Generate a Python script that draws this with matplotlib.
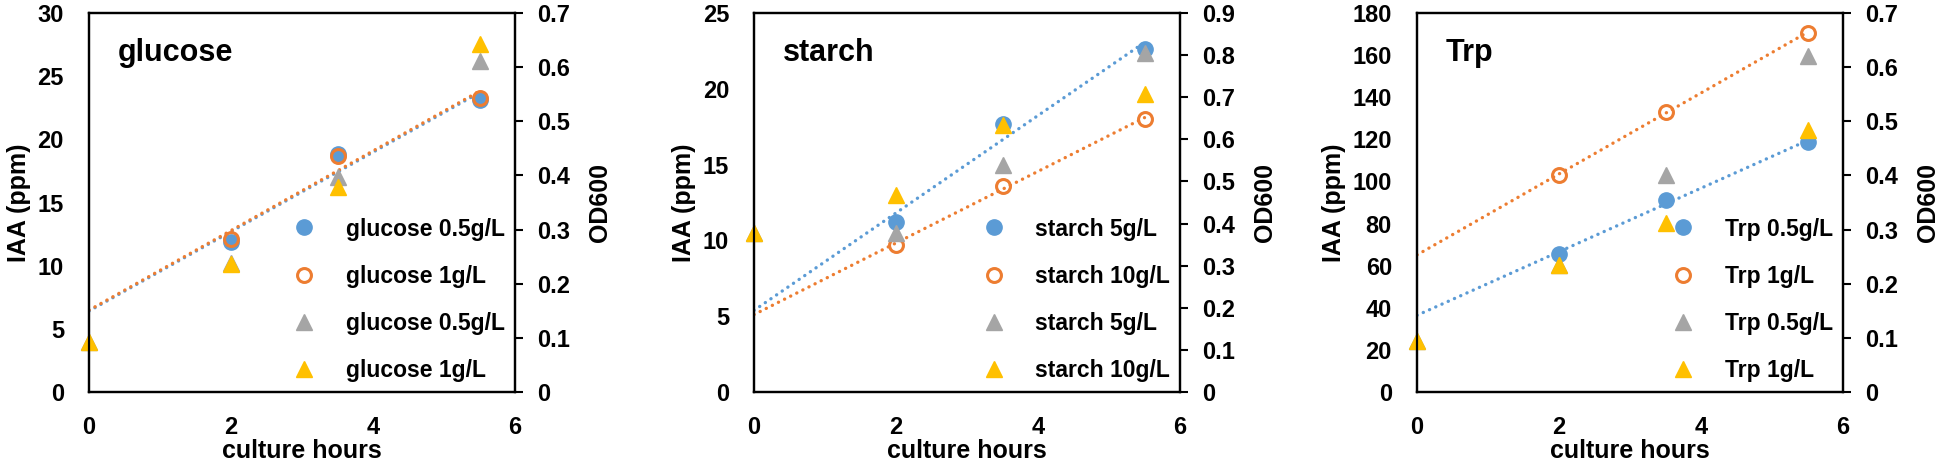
import numpy as np
import matplotlib
matplotlib.use("Agg")
import matplotlib.pyplot as plt
from matplotlib.ticker import FuncFormatter, MultipleLocator

plt.rcParams["font.family"] = ["Liberation Sans", "DejaVu Sans"]
plt.rcParams["font.weight"] = "bold"
plt.rcParams["axes.labelweight"] = "bold"

# ---------------------------------------------------------------------------
# data
# ---------------------------------------------------------------------------
hours_iaa = [2, 3.5, 5.5]
hours_od = [0, 2, 3.5, 5.5]

glucose_iaa_low = [11.9, 18.8, 23.1]
glucose_iaa_high = [12.1, 18.7, 23.3]
glucose_od_low = [0.092, 0.239, 0.398, 0.611]
glucose_od_high = [0.092, 0.236, 0.379, 0.643]
glucose_labels = ["glucose 0.5g/L", "glucose 1g/L", "glucose 0.5g/L", "glucose 1g/L"]

starch_iaa_low = [11.2, 17.7, 22.6]
starch_iaa_high = [9.7, 13.6, 18.0]
starch_od_low = [0.377, 0.377, 0.539, 0.805]
starch_od_high = [0.377, 0.468, 0.634, 0.707]
starch_labels = ["starch 5g/L", "starch 10g/L", "starch 5g/L", "starch 10g/L"]

trp_iaa_low = [65.5, 91.2, 118.6]
trp_iaa_high = [103.1, 133.2, 170.5]
trp_od_low = [0.095, 0.234, 0.401, 0.620]
trp_od_high = [0.095, 0.234, 0.313, 0.483]
trp_labels = ["Trp 0.5g/L", "Trp 1g/L", "Trp 0.5g/L", "Trp 1g/L"]

panels = [
    ("glucose", glucose_iaa_low, glucose_iaa_high, glucose_od_low, glucose_od_high,
     glucose_labels, 30, 5, 0.7),
    ("starch", starch_iaa_low, starch_iaa_high, starch_od_low, starch_od_high,
     starch_labels, 25, 5, 0.9),
    ("Trp", trp_iaa_low, trp_iaa_high, trp_od_low, trp_od_high,
     trp_labels, 180, 20, 0.7),
]

BLUE, ORANGE, GRAY, YELLOW = "#5B9BD5", "#ED7D31", "#A5A5A5", "#FFC000"
TREND_X = np.array([0, 5.5])
fmt = FuncFormatter(lambda v, _: f"{v:g}")

fig = plt.figure(figsize=(19.46, 4.61), dpi=100)
lefts = [89 / 1946, 754 / 1946, 1417 / 1946]
W, B, H = 426 / 1946, 69 / 461, 379 / 461

for left, (name, iaa_a, iaa_b, od_a, od_b, labels, ymax, ystep, odmax) in zip(lefts, panels):
    ax = fig.add_axes([left, B, W, H])
    ax2 = ax.twinx()

    # trend lines (linear fits of the IAA series)
    for vals, col in ((iaa_a, BLUE), (iaa_b, ORANGE)):
        k, b = np.polyfit(hours_iaa, vals, 1)
        ax.plot(TREND_X, k * TREND_X + b, color=col, lw=2.4, ls=(0, (0.05, 2.0)),
                dash_capstyle="round", zorder=2)

    h1, = ax.plot(hours_iaa, iaa_a, "o", color=BLUE, ms=11, mec=BLUE, zorder=3)
    h2, = ax.plot(hours_iaa, iaa_b, "o", mfc="none", mec=ORANGE, mew=2.2, ms=10, zorder=3)
    h3, = ax2.plot(hours_od, od_a, "^", color=GRAY, ms=11, clip_on=False)
    h4, = ax2.plot(hours_od, od_b, "^", color=YELLOW, ms=11, clip_on=False)

    ax.set_xlim(0, 6)
    ax.set_ylim(0, ymax)
    ax2.set_ylim(0, odmax)
    ax.xaxis.set_major_locator(MultipleLocator(2))
    ax.yaxis.set_major_locator(MultipleLocator(ystep))
    ax2.yaxis.set_major_locator(MultipleLocator(0.1))
    for a in (ax.xaxis, ax.yaxis, ax2.yaxis):
        a.set_major_formatter(fmt)

    ax.tick_params(axis="x", length=0, pad=17, labelsize=17)
    ax.tick_params(axis="y", length=0, pad=18, labelsize=17)
    ax2.tick_params(axis="y", length=6, width=1.5, direction="out", pad=10, labelsize=17)
    for a in (ax, ax2):
        for sp in a.spines.values():
            sp.set_linewidth(1.6)

    ax.set_xlabel("culture hours", fontsize=18, labelpad=0)
    ax.set_ylabel("IAA (ppm)", fontsize=18, labelpad=5)
    ax2.set_ylabel("OD600", fontsize=18, labelpad=13)

    ax.text(0.068, 0.894, name, transform=ax.transAxes, fontsize=22, va="center")

    leg = ax2.legend([h1, h2, h3, h4], labels, loc="lower right", frameon=False,
                     fontsize=16.5, labelspacing=1.05, handletextpad=1.2,
                     handlelength=1.2, borderaxespad=0.25, borderpad=0.2)

fig.savefig("out.png", dpi=100)
